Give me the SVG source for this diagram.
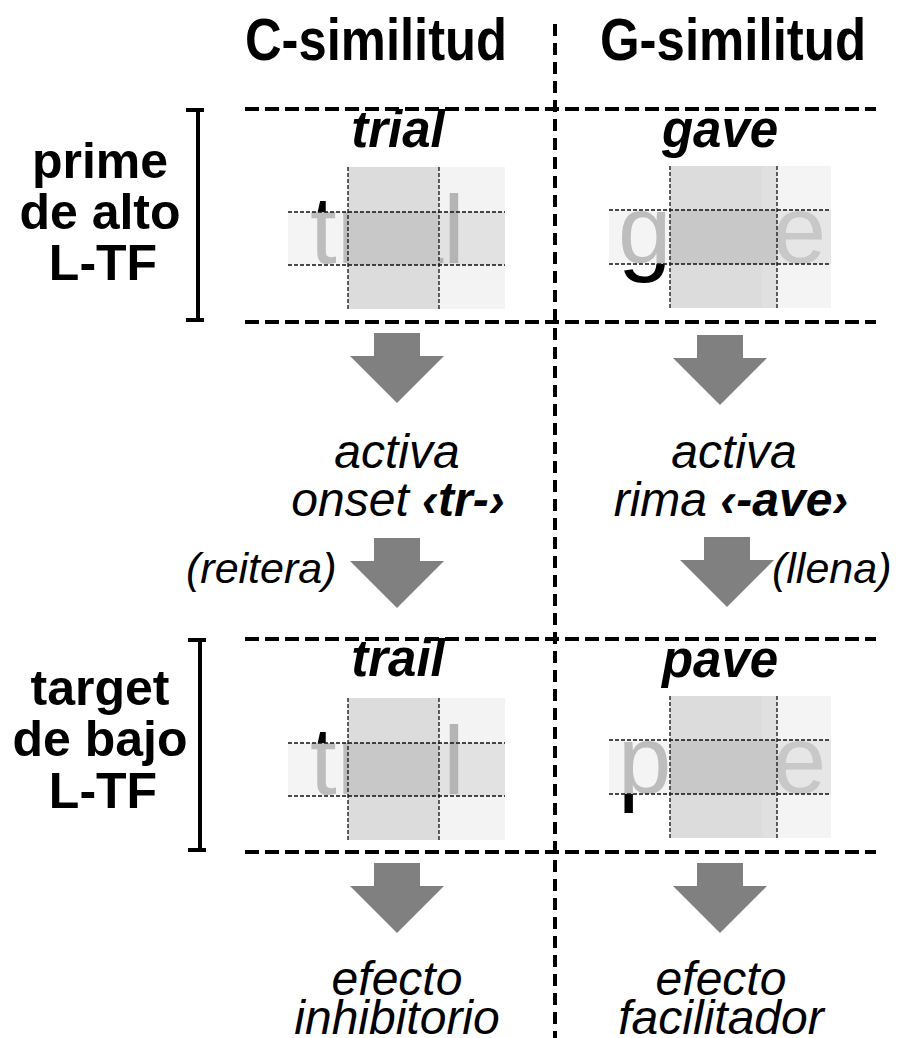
<svg xmlns="http://www.w3.org/2000/svg" xmlns:xlink="http://www.w3.org/1999/xlink" width="898" height="1038" viewBox="0 0 898 1038">
<style>
.hd{font-family:"Liberation Sans",Arial,sans-serif;font-weight:bold;font-size:60px;text-anchor:middle;fill:#000}
.lb{font-family:"Liberation Sans",Arial,sans-serif;font-weight:bold;font-size:50px;text-anchor:middle;fill:#000}
.wd{font-family:"Liberation Sans",Arial,sans-serif;font-weight:bold;font-style:italic;font-size:51px;text-anchor:middle;fill:#000}
.it{font-family:"Liberation Sans",Arial,sans-serif;font-style:italic;font-size:48px;text-anchor:middle;fill:#000}
.sm{font-family:"Liberation Sans",Arial,sans-serif;font-style:italic;font-size:43px;fill:#000}
.bi{font-weight:bold}
.big{font-family:"Liberation Sans",Arial,sans-serif;font-size:96px}
.dash{stroke:#000;stroke-width:4;stroke-dasharray:14 6;fill:none}
.vdash{stroke:#000;stroke-width:4;stroke-dasharray:12 7;fill:none}
.fine{stroke:#111;stroke-width:1.3;stroke-dasharray:4 2;fill:none}
.brk{stroke:#000;stroke-width:4;fill:none}
.arr{fill:#808080}
</style>
<defs>
<path id="arrow" d="M-23,0 H23 V23 H47 L0,70 L-47,23 H-23 Z"/>
<clipPath id="cLout"><rect x="0" y="-40" width="60" height="85"/><rect x="0" y="98" width="60" height="60"/></clipPath>
<clipPath id="cLband"><rect x="0" y="45" width="60" height="53"/></clipPath>
<clipPath id="cR"><rect x="151" y="0" width="66" height="142"/></clipPath>
<clipPath id="gLout"><rect x="0" y="-40" width="61" height="84"/><rect x="0" y="98" width="61" height="60"/></clipPath>
<clipPath id="gLband"><rect x="0" y="44" width="61" height="54"/></clipPath>
<clipPath id="gR"><rect x="168" y="0" width="54" height="142"/></clipPath>
<text id="t-trial" class="big" x="22" y="96">trial</text>
<text id="t-trail" class="big" x="22" y="96">trail</text>
<text id="t-gave" class="big" x="9" y="97">gave</text>
<text id="t-pave" class="big" x="9" y="97">pave</text>
</defs>
<rect width="898" height="1038" fill="#fff"/>

<g id="grid">
<line class="vdash" x1="555" y1="24" x2="555" y2="1038"/>
<line class="dash" x1="245" y1="109" x2="876" y2="109"/>
<line class="dash" x1="245" y1="322" x2="876" y2="322"/>
<line class="dash" x1="245" y1="639" x2="876" y2="639"/>
<line class="dash" x1="245" y1="852" x2="876" y2="852"/>
<path class="brk" d="M186,110 H204 M198,110 V320 M186,320 H204"/>
<path class="brk" d="M188,640 H206 M200,640 V850 M188,850 H206"/>
</g>

<g id="header-c"><text class="hd" x="376" y="60" textLength="262" lengthAdjust="spacingAndGlyphs">C-similitud</text></g>
<g id="header-g"><text class="hd" x="733" y="60" textLength="266" lengthAdjust="spacingAndGlyphs">G-similitud</text></g>

<g id="label-prime">
<text class="lb" x="100" y="178">prime</text>
<text class="lb" x="100" y="229">de alto</text>
<text class="lb" x="103" y="280">L-TF</text>
</g>
<g id="label-target">
<text class="lb" x="100" y="705">target</text>
<text class="lb" x="100" y="756">de bajo</text>
<text class="lb" x="103" y="808">L-TF</text>
</g>

<g id="prime-trial">
<text class="wd" x="398" y="147">trial</text>
<g transform="translate(288,167)">
<rect x="0" y="45" width="60" height="53" fill="#f4f4f4"/>
<use xlink:href="#t-trial" clip-path="url(#cLout)" fill="#000"/>
<use xlink:href="#t-trial" clip-path="url(#cLband)" fill="#bdbdbd"/>
<rect x="151" y="0" width="66" height="142" fill="#f3f3f3"/>
<rect x="151" y="45" width="66" height="53" fill="#e2e2e2"/>
<use xlink:href="#t-trial" clip-path="url(#cR)" fill="#b4b4b4"/>
<rect x="60" y="0" width="91" height="142" fill="#dcdcdc"/>
<rect x="60" y="45" width="91" height="53" fill="#c8c8c8"/>
<path class="fine" d="M60,0 V142 M151,0 V142 M0,45 H217 M0,98 H217"/>
</g>
</g>

<g id="prime-gave">
<text class="wd" x="720" y="147">gave</text>
<g transform="translate(609,166)">
<rect x="0" y="44" width="61" height="54" fill="#f4f4f4"/>
<use xlink:href="#t-gave" clip-path="url(#gLout)" fill="#000"/>
<use xlink:href="#t-gave" clip-path="url(#gLband)" fill="#bdbdbd"/>
<rect x="168" y="0" width="54" height="142" fill="#f4f4f4"/>
<rect x="168" y="44" width="54" height="54" fill="#e6e6e6"/>
<use xlink:href="#t-gave" clip-path="url(#gR)" fill="#c8c8c8"/>
<rect x="61" y="0" width="107" height="142" fill="#dcdcdc"/>
<rect x="153" y="0" width="15" height="142" fill="#e0e0e0"/>
<rect x="61" y="44" width="107" height="54" fill="#c8c8c8"/>
<path class="fine" d="M61,0 V142 M168,0 V142 M0,44 H222 M0,98 H222"/>
</g>
</g>

<g id="target-trail">
<text class="wd" x="398" y="676">trail</text>
<g transform="translate(288,698)">
<rect x="0" y="45" width="60" height="53" fill="#f4f4f4"/>
<use xlink:href="#t-trail" clip-path="url(#cLout)" fill="#000"/>
<use xlink:href="#t-trail" clip-path="url(#cLband)" fill="#bdbdbd"/>
<rect x="151" y="0" width="66" height="142" fill="#f3f3f3"/>
<rect x="151" y="45" width="66" height="53" fill="#e2e2e2"/>
<use xlink:href="#t-trail" clip-path="url(#cR)" fill="#b4b4b4"/>
<rect x="60" y="0" width="91" height="142" fill="#dcdcdc"/>
<rect x="60" y="45" width="91" height="53" fill="#c8c8c8"/>
<path class="fine" d="M60,0 V142 M151,0 V142 M0,45 H217 M0,98 H217"/>
</g>
</g>

<g id="target-pave">
<text class="wd" x="720" y="677">pave</text>
<g transform="translate(609,696)">
<rect x="0" y="44" width="61" height="54" fill="#f4f4f4"/>
<use xlink:href="#t-pave" clip-path="url(#gLout)" fill="#000"/>
<use xlink:href="#t-pave" clip-path="url(#gLband)" fill="#bdbdbd"/>
<rect x="168" y="0" width="54" height="142" fill="#f4f4f4"/>
<rect x="168" y="44" width="54" height="54" fill="#e6e6e6"/>
<use xlink:href="#t-pave" clip-path="url(#gR)" fill="#c8c8c8"/>
<rect x="61" y="0" width="107" height="142" fill="#dcdcdc"/>
<rect x="153" y="0" width="15" height="142" fill="#e0e0e0"/>
<rect x="61" y="44" width="107" height="54" fill="#c8c8c8"/>
<path class="fine" d="M61,0 V142 M168,0 V142 M0,44 H222 M0,98 H222"/>
</g>
</g>

<g id="connectors">
<use xlink:href="#arrow" class="arr" transform="translate(397,333)"/>
<use xlink:href="#arrow" class="arr" transform="translate(397,538)"/>
<use xlink:href="#arrow" class="arr" transform="translate(720,335)"/>
<use xlink:href="#arrow" class="arr" transform="translate(727,537)"/>
<use xlink:href="#arrow" class="arr" transform="translate(397,863)"/>
<use xlink:href="#arrow" class="arr" transform="translate(720,863)"/>
</g>

<g id="activa-onset">
<text class="it" x="397" y="468">activa</text>
<text class="it" x="398" y="516">onset <tspan class="bi">‹tr-›</tspan></text>
</g>
<g id="activa-rima">
<text class="it" x="734" y="468">activa</text>
<text class="it" x="731" y="516">rima <tspan class="bi">‹-ave›</tspan></text>
</g>
<g id="reitera"><text class="sm" x="186" y="583">(reitera)</text></g>
<g id="llena"><text class="sm" x="772" y="583">(llena)</text></g>
<g id="efecto-inhibitorio">
<text class="it" x="397" y="995">efecto</text>
<text class="it" x="397" y="1034">inhibitorio</text>
</g>
<g id="efecto-facilitador">
<text class="it" x="721" y="995">efecto</text>
<text class="it" x="721" y="1034">facilitador</text>
</g>
</svg>
